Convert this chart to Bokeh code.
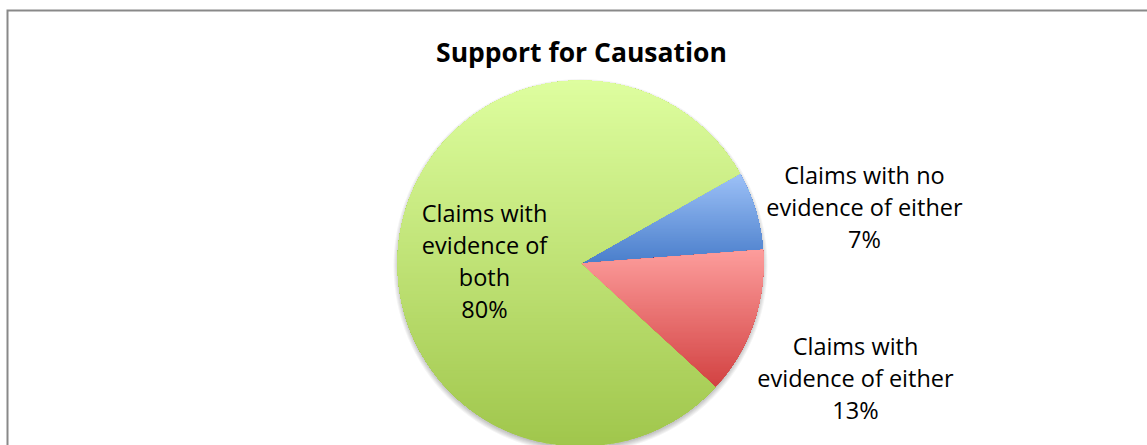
import numpy as np
from bokeh.plotting import figure
from bokeh.models import Range1d
from bokeh.embed import file_html
from bokeh.resources import INLINE
from bokeh.core.properties import value

# ---------------- data ----------------
title_text = "Support for Causation"
categories = [
    ["Claims with no", "evidence of either"],
    ["Claims with", "evidence of either"],
    ["Claims with", "evidence of", "both"],
]
shares = [7, 13, 80]
pct_labels = ["7%", "13%", "80%"]

# ---------------- style / layout ----------------
top_colors = ["#9DC1F7", "#FD9D9C", "#DEFE9F"]
bottom_colors = ["#4A7ECB", "#D24242", "#A0C64C"]
START_DEG = 29.5            # edge where the first slice starts; slices run clockwise
W, H = 1147, 445
R_PX = 183.0                # pie radius in pixels
CX_PX, CY_PX = 580.0, 263.0 # pie centre inside the figure (from top-left)
# label anchors in pixels: (x centre, first line position), from top-left
label_anchor_px = [(864.0, 174.0), (855.0, 345.5), (484.0, 212.5)]
TITLE_ANCHOR_PX = (581.0, 51.0)
LINE_STEP_PX = 32.0
LABEL_FONT = "Open Sans"
N_STRIPS = 120

s = R_PX
x_range = Range1d(-CX_PX / s, (W - CX_PX) / s)
y_range = Range1d(-(H - CY_PX) / s, CY_PX / s)


def px_to_data(xp, yp):
    return (xp - CX_PX) / s, (CY_PX - yp) / s


p = figure(width=W, height=H, x_range=x_range, y_range=y_range,
           output_backend="svg", toolbar_location=None, min_border=0,
           x_axis_type=None, y_axis_type=None)
p.grid.visible = False
p.outline_line_color = None
p.background_fill_color = "white"
p.border_fill_color = "white"


def hex_rgb(h):
    h = h.lstrip("#")
    return np.array([int(h[i:i + 2], 16) for i in (0, 2, 4)], dtype=float)


def rgb_hex(c):
    c = np.clip(np.round(c), 0, 255).astype(int)
    return "#%02x%02x%02x" % tuple(c)


def wedge_poly(a0, a1):
    n = max(16, int(abs(a0 - a1) * 3))
    angs = np.radians(np.linspace(a0, a1, n))
    return [(0.0, 0.0)] + list(zip(np.cos(angs), np.sin(angs)))


def cut(p0, p1, t):
    (x0, y0), (x1, y1) = p0, p1
    f = (t - y0) / (y1 - y0)
    return (x0 + f * (x1 - x0), t)


def clip_above(poly, t):
    out = []
    for i in range(len(poly)):
        cur, prev = poly[i], poly[i - 1]
        cin, pin = cur[1] >= t, prev[1] >= t
        if cin:
            if not pin:
                out.append(cut(prev, cur, t))
            out.append(cur)
        elif pin:
            out.append(cut(prev, cur, t))
    return out


# soft shadow under the pie
for k in range(6):
    p.circle([0], [-2.5 / s], radius=1.0 + (k - 1) / s, fill_color="black",
             fill_alpha=0.045, line_color=None)
p.circle([0], [0], radius=1.0, fill_color="white", line_color=None)

total = float(sum(shares))
xs_all, ys_all, cols_all = [], [], []
a = START_DEG
for i, v in enumerate(shares):
    span = 360.0 * v / total
    a0, a1 = a, a - span
    poly = wedge_poly(a0, a1)
    ys = [pt[1] for pt in poly]
    ymin, ymax = min(ys), max(ys)
    cb, ct = hex_rgb(bottom_colors[i]), hex_rgb(top_colors[i])
    for k in range(N_STRIPS):
        t = ymin + (ymax - ymin) * k / N_STRIPS
        sub = clip_above(poly, t) if k > 0 else poly
        if len(sub) < 3:
            continue
        frac = (k + 0.5) / N_STRIPS
        xs_all.append([q[0] for q in sub])
        ys_all.append([q[1] for q in sub])
        cols_all.append(rgb_hex(cb + (ct - cb) * frac))
    a = a1

p.patches(xs_all, ys_all, fill_color=cols_all, line_color=None)

# labels
lx, ly, lt = [], [], []
for i, lines in enumerate(categories):
    ax, ay = label_anchor_px[i]
    for j, line in enumerate(lines + [pct_labels[i]]):
        dx, dy = px_to_data(ax, ay + j * LINE_STEP_PX)
        lx.append(dx)
        ly.append(dy)
        lt.append(line)
p.text(lx, ly, text=lt, text_font=value(LABEL_FONT), text_font_size="23.5px",
       text_align="center", text_baseline="alphabetic", text_color="black")

# title
tx, ty = px_to_data(*TITLE_ANCHOR_PX)
p.text([tx], [ty], text=[title_text],
       text_font=value(LABEL_FONT), text_font_size="26.5px", text_font_style="bold",
       text_align="center", text_baseline="alphabetic", text_color="black")

# chart-area border: only its top and left edges fall inside the window
c0 = px_to_data(7.0, H + 5)
c1 = px_to_data(7.0, 10.0)
c2 = px_to_data(W + 5, 10.0)
p.line([c0[0], c1[0], c2[0]], [c0[1], c1[1], c2[1]], line_color="#898989",
       line_width=2, line_join="miter")

open("out.html", "w").write(file_html(p, INLINE))
